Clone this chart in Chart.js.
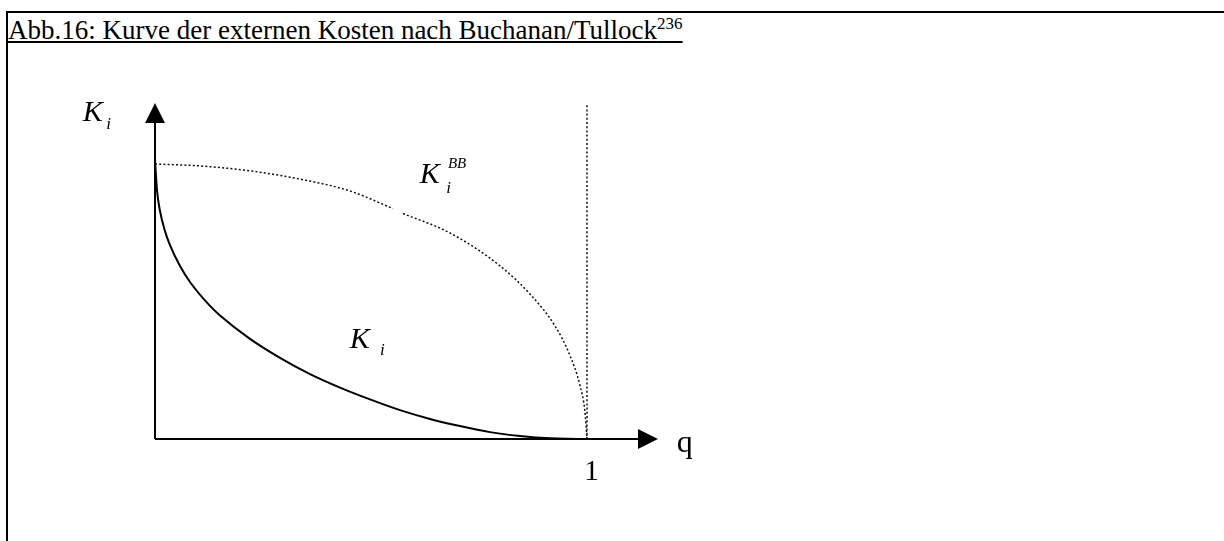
<!DOCTYPE html>
<html>
<head>
<meta charset="utf-8">
<script src="https://cdn.jsdelivr.net/npm/chart.js@4.4.1/dist/chart.umd.min.js"></script>
<style>
  html, body { margin: 0; padding: 0; background: #fff; }
  body { width: 1224px; height: 541px; position: relative; overflow: hidden; }
  #frame { position: absolute; left: 6px; top: 11px; width: 1300px; height: 600px;
           border-top: 2px solid #000; border-left: 2px solid #000; }
  #title { position: absolute; left: 8px; top: 14px; font-family: "Liberation Serif", serif;
           font-size: 27px; line-height: normal; color: #000; text-decoration: underline; white-space: nowrap; }
  #title sup { font-size: 17px; vertical-align: 10px; }
  #wrap { position: absolute; left: 0; top: 0; width: 1224px; height: 541px; }
</style>
</head>
<body>
<div id="frame"></div>
<div id="title">Abb.16: Kurve der externen Kosten nach Buchanan/Tullock<sup>236</sup></div>
<div id="wrap"><canvas id="chart_externeKosten"></canvas></div>
<script>
// curve K_i (solid): q, K
var curveKi = [
  [0, 1.015], [0.0046, 0.905], [0.0116, 0.829], [0.0231, 0.756], [0.0347, 0.705],
  [0.0579, 0.629], [0.081, 0.571], [0.1273, 0.484], [0.1505, 0.449], [0.2199, 0.364],
  [0.2894, 0.295], [0.3588, 0.236], [0.4282, 0.187], [0.4977, 0.144], [0.5671, 0.105],
  [0.6366, 0.073], [0.706, 0.047], [0.7755, 0.025], [0.8449, 0.011], [0.9144, 0.0025],
  [1.0069, 0], [1.0995, 0]
];
// curve K_i^BB (dotted), null = small gap in the original
var curveKiBB = [
  [0, 1.0], [0.104, 0.993], [0.22, 0.975], [0.336, 0.945], [0.451, 0.902],
  [0.551, 0.838], null, [0.574, 0.82], [0.683, 0.749], [0.799, 0.629],
  [0.868, 0.527], [0.926, 0.411], [0.961, 0.302], [0.984, 0.193], [0.995, 0.102], [1.0, 0]
];
// vertical dotted line at q = 1
var lineQ1 = [[1, 0], [1, 1.215]];
// axes and arrow heads
var axisY = [[0, 0], [0, 1.149]];
var axisX = [[0, 0], [1.118, 0]];
var arrowY = [[0, 1.185]];
var arrowX = [[1.141, 0]];
// labels: text, q, K, font
var labels = [
  ['K', -0.167, 1.156, 'italic 30px "Liberation Serif"'],
  ['i', -0.113, 1.127, 'italic 17px "Liberation Serif"'],
  ['K', 0.613, 0.931, 'italic 30px "Liberation Serif"'],
  ['BB', 0.678, 0.985, 'italic 15px "Liberation Serif"'],
  ['i', 0.674, 0.895, 'italic 17px "Liberation Serif"'],
  ['K', 0.451, 0.331, 'italic 30px "Liberation Serif"'],
  ['i', 0.521, 0.305, 'italic 17px "Liberation Serif"'],
  ['1', 0.993, -0.149, '30px "Liberation Serif"'],
  ['q', 1.208, -0.047, '32px "Liberation Serif"']
];

function pts(arr) {
  return arr.map(function (p) { return p ? { x: p[0], y: p[1] } : { x: NaN, y: null }; });
}

function arrowHead() {
  var c = document.createElement('canvas');
  c.width = 20; c.height = 20;
  var g = c.getContext('2d');
  g.fillStyle = '#000';
  g.beginPath();
  g.moveTo(10, 0); g.lineTo(20, 20); g.lineTo(0, 20);
  g.closePath();
  g.fill();
  return c;
}
var head = arrowHead();

var lineDefaults = { showLine: true, pointRadius: 0, borderColor: '#000', clip: false, fill: false };

var chart_externeKosten = new Chart(document.getElementById('chart_externeKosten'), {
  type: 'scatter',
  data: {
    datasets: [
      Object.assign({}, lineDefaults, { label: 'y-Achse', data: pts(axisY), borderWidth: 2 }),
      Object.assign({}, lineDefaults, { label: 'x-Achse', data: pts(axisX), borderWidth: 2 }),
      Object.assign({}, lineDefaults, { label: 'q = 1', data: pts(lineQ1), borderWidth: 1.5, borderDash: [2, 2.2], borderColor: '#111' }),
      Object.assign({}, lineDefaults, { label: 'K_i^BB', data: pts(curveKiBB), borderWidth: 1.5, borderDash: [2, 2.2], borderColor: '#111', cubicInterpolationMode: 'monotone', spanGaps: false }),
      Object.assign({}, lineDefaults, { label: 'K_i', data: pts(curveKi), borderWidth: 2, cubicInterpolationMode: 'monotone' }),
      { label: 'Pfeil y', data: pts(arrowY), showLine: false, pointStyle: head, pointRadius: 10, pointRotation: 0, clip: false },
      { label: 'Pfeil x', data: pts(arrowX), showLine: false, pointStyle: head, pointRadius: 10, pointRotation: 90, clip: false }
    ]
  },
  options: {
    animation: false,
    responsive: true,
    maintainAspectRatio: false,
    layout: { padding: { left: 155, right: 421, top: 81.5, bottom: 102 } },
    plugins: {
      legend: { display: false },
      title: { display: false },
      tooltip: { enabled: false }
    },
    scales: {
      x: { type: 'linear', min: 0, max: 1.5, display: false },
      y: { type: 'linear', min: 0, max: 1.3, display: false }
    }
  },
  plugins: [{
    id: 'curveLabels',
    afterDatasetsDraw: function (chart) {
      var ctx = chart.ctx;
      var xs = chart.scales.x, ys = chart.scales.y;
      ctx.save();
      ctx.fillStyle = '#000';
      ctx.textAlign = 'left';
      ctx.textBaseline = 'alphabetic';
      labels.forEach(function (l) {
        ctx.font = l[3];
        ctx.fillText(l[0], xs.getPixelForValue(l[1]), ys.getPixelForValue(l[2]));
      });
      ctx.restore();
    }
  }]
});
</script>
</body>
</html>
